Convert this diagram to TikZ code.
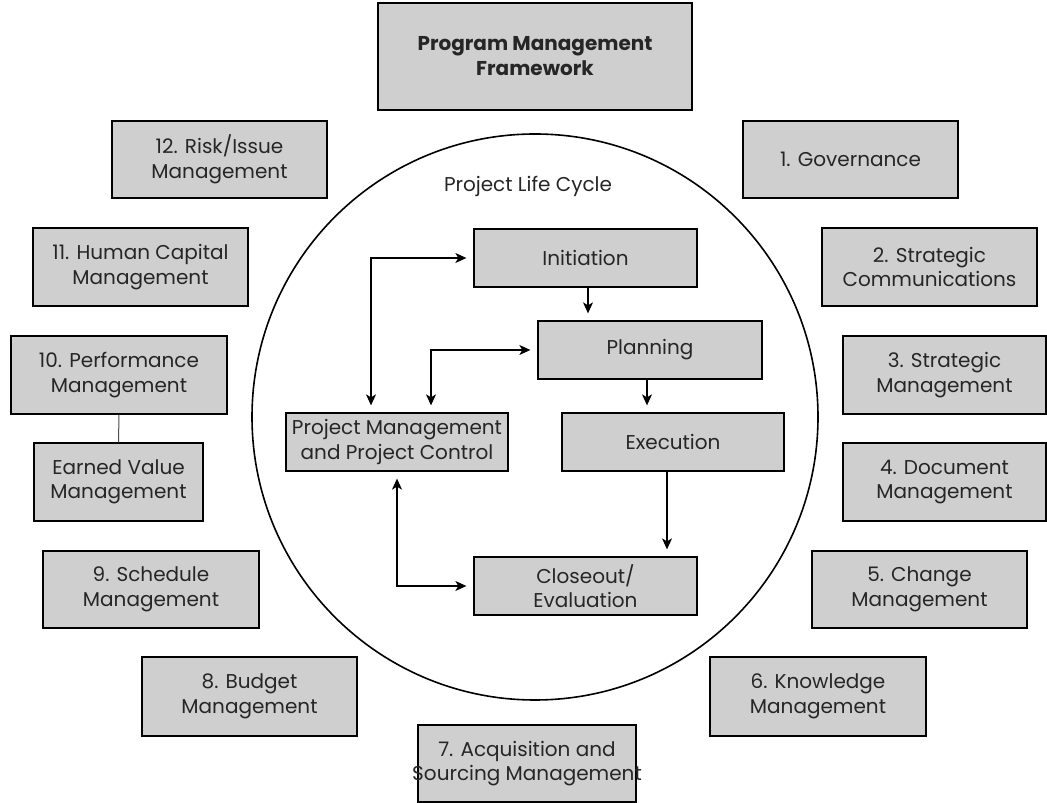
\documentclass[tikz,border=0pt]{standalone}
\usepackage{fontspec}
\setmainfont{Poppins}
\usetikzlibrary{arrows.meta}
\definecolor{boxfill}{gray}{0.81}
\tikzset{
  box/.style={draw=black, line width=1.3pt, fill=boxfill, inner sep=0pt, align=center,
    font=\fontsize{20}{24.5}\selectfont, text=black!85},
  arr/.style={line width=1.2pt, -{Stealth[length=11pt,width=10pt,inset=3pt]}, shorten >=7pt},
  darr/.style={line width=1.2pt, {Stealth[length=11pt,width=10pt,inset=3pt]}-{Stealth[length=11pt,width=10pt,inset=3pt]}, shorten >=7pt, shorten <=7pt},
  link/.style={line width=1pt, black!70}
}
\begin{document}
\begin{tikzpicture}[x=1pt,y=1pt]
\useasboundingbox (0,0) rectangle (1047,803);
% circle
\node[draw, circle, line width=1.6pt, minimum size=566pt, inner sep=0pt] (cyc) at (535,386) {};
\node[font=\fontsize{20}{24}\selectfont, text=black!85] (plc) at (528,617) {Project Life Cycle};
% outer boxes
\node[box, minimum width=314pt, minimum height=107pt, font=\bfseries\fontsize{20}{25}\selectfont] (pmf) at (535,746.5) {Program Management\\Framework};
\node[box, minimum width=215pt, minimum height=77pt] (b12) at (219.5,643.5) {12. Risk/Issue\\Management};
\node[box, minimum width=215pt, minimum height=77pt] (b1) at (850.5,643.5) {1. Governance};
\node[box, minimum width=215pt, minimum height=78pt] (b11) at (140.5,536) {11. Human Capital\\Management};
\node[box, minimum width=215pt, minimum height=78pt] (b2) at (929.5,536) {2. Strategic\\Communications};
\node[box, minimum width=216pt, minimum height=78pt] (b10) at (119,428) {10. Performance\\Management};
\node[box, minimum width=203pt, minimum height=78pt] (b3) at (944.5,428) {3. Strategic\\Management};
\node[box, minimum width=169pt, minimum height=78pt] (ev) at (118.5,321) {Earned Value\\Management};
\node[box, minimum width=203pt, minimum height=78pt] (b4) at (944.5,321) {4. Document\\Management};
\node[box, minimum width=216pt, minimum height=77pt] (b9) at (151,213.5) {9. Schedule\\Management};
\node[box, minimum width=215pt, minimum height=77pt] (b5) at (919.5,213.5) {5. Change\\Management};
\node[box, minimum width=215pt, minimum height=79pt] (b8) at (249.5,106.5) {8. Budget\\Management};
\node[box, minimum width=216pt, minimum height=79pt] (b6) at (818,106.5) {6. Knowledge\\Management};
\node[box, minimum width=218pt, minimum height=77pt] (b7) at (527,39.5) {\makebox[0pt]{7. Acquisition and}\\\makebox[0pt]{Sourcing Management}};
\draw[link] (b10.south) -- (ev.north);
% inner boxes
\node[box, minimum width=223pt, minimum height=58pt] (ini) at (585.5,545) {Initiation};
\node[box, minimum width=224pt, minimum height=58pt] (pla) at (650,453) {Planning};
\node[box, minimum width=222pt, minimum height=58pt] (exe) at (673,361) {Execution};
\node[box, minimum width=222pt, minimum height=58pt] (pm) at (397,361) {Project Management\\and Project Control};
\node[box, minimum width=223pt, minimum height=58pt] (clo) at (585.5,217) {Closeout/\\Evaluation};
% arrows
\coordinate (c1) at ([xshift=-26pt]pm.north |- ini.west);
\draw[darr] ([xshift=-26pt]pm.north) -- (c1) -- (ini.west);
\coordinate (c2) at ([xshift=34pt]pm.north |- pla.west);
\draw[darr] ([xshift=34pt]pm.north) -- (c2) -- (pla.west);
\draw[arr] ([xshift=2.5pt]ini.south) -- ([xshift=2.5pt]ini.south |- pla.north);
\draw[arr] ([xshift=-3pt]pla.south) -- ([xshift=-3pt]pla.south |- exe.north);
\draw[arr] ([xshift=-6pt]exe.south) -- ([xshift=-6pt]exe.south |- clo.north);
\coordinate (c3) at (pm.south |- clo.west);
\draw[darr] (pm.south) -- (c3) -- (clo.west);
\end{tikzpicture}
\end{document}
